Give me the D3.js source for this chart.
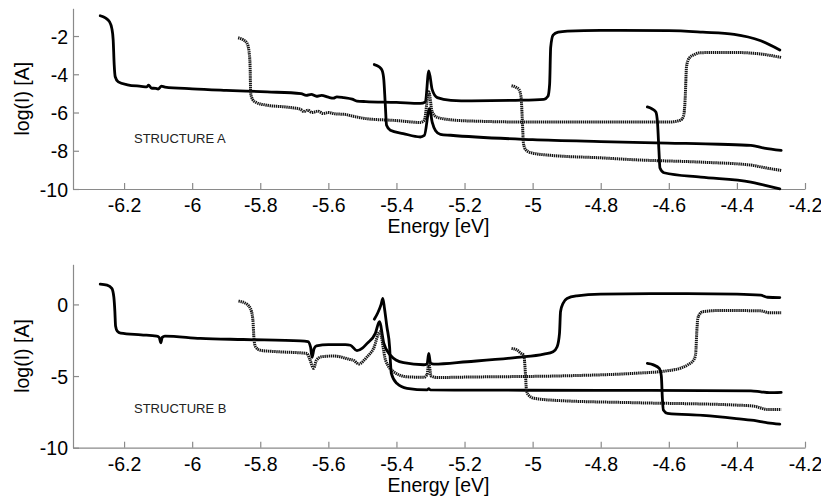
<!DOCTYPE html>
<html>
<head>
<meta charset="utf-8">
<script src="https://cdn.jsdelivr.net/npm/d3@7"></script>
<style>
  html, body { margin: 0; padding: 0; background: #fff; }
  svg { display: block; }
  text { font-family: "Liberation Sans", Arial, Helvetica, sans-serif; fill: #000; }
</style>
</head>
<body>
<svg id="chart" width="821" height="502"></svg>
<script>
// ---------- data ----------
const xTicks = [-6.2, -6, -5.8, -5.6, -5.4, -5.2, -5, -4.8, -4.6, -4.4, -4.2];
const yTicksA = [-10, -8, -6, -4, -2];
const yTicksB = [-10, -5, 0];
const xLabel = "Energy [eV]";
const yLabel = "log(I) [A]";
const panelLabels = ["STRUCTURE A", "STRUCTURE B"];

// Structure A curves  [energy, log(I)]
const A1 = [[-6.270,-0.94],[-6.255,-1.05],[-6.243,-1.25],[-6.236,-1.6],[-6.232,-2.2],[-6.229,-3.5],[-6.226,-4.13],[-6.217,-4.40],[-6.19,-4.55],[-6.15,-4.63],[-6.133,-4.66],[-6.128,-4.57],[-6.12,-4.72],[-6.107,-4.74],[-6.10,-4.77],[-6.09,-4.62],[-6.08,-4.67],[-6.0,-4.76],[-5.9,-4.84],[-5.78,-4.92],[-5.68,-5.01],[-5.665,-5.1],[-5.65,-5.05],[-5.635,-5.15],[-5.62,-5.1],[-5.60,-5.2],[-5.585,-5.25],[-5.575,-5.18],[-5.555,-5.22],[-5.53,-5.3],[-5.516,-5.4],[-5.49,-5.43],[-5.40,-5.47],[-5.33,-5.52],[-5.315,-5.45],[-5.305,-3.82],[-5.295,-4.8],[-5.28,-5.22],[-5.24,-5.36],[-5.18,-5.39],[-5.05,-5.36],[-4.967,-5.31],[-4.955,-5.15],[-4.950,-4.5],[-4.947,-2.6],[-4.940,-1.95],[-4.925,-1.8],[-4.898,-1.74],[-4.8,-1.70],[-4.6,-1.72],[-4.5,-1.8],[-4.408,-1.91],[-4.33,-2.25],[-4.274,-2.73]];
const A2 = [[-5.865,-2.09],[-5.85,-2.2],[-5.839,-2.38],[-5.833,-2.8],[-5.830,-3.5],[-5.828,-5.0],[-5.823,-5.3],[-5.815,-5.45],[-5.78,-5.62],[-5.72,-5.72],[-5.682,-5.83],[-5.672,-5.95],[-5.66,-5.88],[-5.648,-6.0],[-5.63,-5.93],[-5.615,-6.05],[-5.60,-6.0],[-5.58,-6.07],[-5.55,-6.1],[-5.526,-6.2],[-5.49,-6.32],[-5.40,-6.42],[-5.33,-6.52],[-5.318,-6.4],[-5.305,-4.92],[-5.295,-5.97],[-5.28,-6.25],[-5.24,-6.38],[-5.19,-6.44],[-5.0,-6.5],[-4.6,-6.5],[-4.565,-6.4],[-4.557,-6.2],[-4.552,-5.3],[-4.548,-3.6],[-4.540,-3.15],[-4.525,-2.97],[-4.506,-2.87],[-4.408,-2.86],[-4.33,-2.94],[-4.27,-3.12]];
const A3 = [[-5.465,-3.49],[-5.45,-3.62],[-5.442,-3.8],[-5.437,-4.3],[-5.433,-5.5],[-5.429,-6.67],[-5.418,-6.93],[-5.38,-7.1],[-5.33,-7.28],[-5.318,-7.2],[-5.303,-5.8],[-5.295,-6.5],[-5.285,-6.95],[-5.271,-7.14],[-5.241,-7.19],[-5.0,-7.42],[-4.8,-7.52],[-4.604,-7.6],[-4.45,-7.66],[-4.359,-7.72],[-4.32,-7.86],[-4.27,-7.98]];
const A4 = [[-5.062,-4.6],[-5.05,-4.67],[-5.04,-4.8],[-5.034,-5.18],[-5.030,-6.5],[-5.027,-7.6],[-5.02,-7.95],[-5.005,-8.1],[-4.947,-8.24],[-4.8,-8.37],[-4.702,-8.47],[-4.5,-8.6],[-4.359,-8.75],[-4.32,-8.88],[-4.27,-9.03]];
const A5 = [[-4.663,-5.71],[-4.65,-5.8],[-4.638,-5.97],[-4.633,-6.58],[-4.629,-8.0],[-4.626,-8.9],[-4.614,-9.15],[-4.506,-9.38],[-4.359,-9.64],[-4.32,-9.8],[-4.274,-9.99]];

// Structure B curves
const B1 = [[-6.27,1.42],[-6.25,1.35],[-6.236,1.12],[-6.23,0.5],[-6.227,-0.5],[-6.225,-1.5],[-6.22,-1.86],[-6.21,-2.0],[-6.15,-2.12],[-6.104,-2.21],[-6.097,-2.3],[-6.092,-2.68],[-6.088,-2.3],[-6.08,-2.21],[-5.976,-2.37],[-5.85,-2.45],[-5.682,-2.54],[-5.66,-2.6],[-5.652,-3.0],[-5.648,-3.7],[-5.642,-3.1],[-5.635,-2.9],[-5.6,-2.8],[-5.55,-2.8],[-5.535,-2.85],[-5.516,-3.23],[-5.50,-3.05],[-5.486,-2.72],[-5.462,-2.02],[-5.45,-1.21],[-5.437,-2.72],[-5.418,-3.54],[-5.40,-3.9],[-5.379,-4.07],[-5.32,-4.21],[-5.31,-4.15],[-5.305,-3.42],[-5.30,-4.1],[-5.29,-4.17],[-5.192,-4.0],[-5.045,-3.7],[-4.967,-3.47],[-4.94,-3.3],[-4.928,-2.95],[-4.921,-2.0],[-4.918,-0.5],[-4.91,0.1],[-4.899,0.42],[-4.87,0.6],[-4.8,0.72],[-4.6,0.75],[-4.4,0.72],[-4.33,0.65],[-4.31,0.5],[-4.274,0.48]];
const B2 = [[-5.864,0.23],[-5.845,0.1],[-5.829,-0.28],[-5.822,-1.0],[-5.818,-2.5],[-5.814,-2.95],[-5.80,-3.2],[-5.75,-3.3],[-5.663,-3.42],[-5.655,-3.8],[-5.643,-4.46],[-5.635,-3.9],[-5.62,-3.65],[-5.584,-3.6],[-5.535,-3.85],[-5.526,-3.9],[-5.511,-4.16],[-5.486,-3.65],[-5.467,-3.07],[-5.449,-1.91],[-5.432,-3.89],[-5.408,-4.7],[-5.369,-5.05],[-5.32,-5.09],[-5.31,-4.9],[-5.305,-4.12],[-5.298,-5.0],[-5.28,-5.1],[-5.192,-5.07],[-4.9,-4.98],[-4.702,-4.81],[-4.604,-4.63],[-4.56,-4.4],[-4.545,-4.23],[-4.525,-3.8],[-4.521,-3.4],[-4.518,-2.0],[-4.515,-1.0],[-4.51,-0.7],[-4.501,-0.51],[-4.45,-0.42],[-4.33,-0.45],[-4.305,-0.58],[-4.27,-0.58]];
const B3 = [[-5.465,-1.03],[-5.455,-0.6],[-5.445,0.0],[-5.44,0.42],[-5.435,-0.3],[-5.428,-1.56],[-5.42,-3.0],[-5.418,-3.89],[-5.415,-4.81],[-5.399,-5.51],[-5.369,-5.86],[-5.31,-5.97],[-5.305,-5.88],[-5.30,-5.97],[-5.2,-5.98],[-4.8,-6.0],[-4.5,-6.01],[-4.359,-6.03],[-4.33,-6.1],[-4.305,-6.16],[-4.27,-6.14]];
const B4 = [[-5.062,-3.07],[-5.045,-3.2],[-5.035,-3.4],[-5.026,-3.54],[-5.022,-4.5],[-5.018,-6.0],[-5.012,-6.33],[-4.996,-6.55],[-4.93,-6.7],[-4.702,-6.86],[-4.408,-7.02],[-4.35,-7.1],[-4.31,-7.33],[-4.27,-7.33]];
const B5 = [[-4.663,-4.12],[-4.645,-4.22],[-4.628,-4.47],[-4.622,-5.0],[-4.619,-6.5],[-4.616,-7.37],[-4.604,-7.6],[-4.5,-7.75],[-4.408,-7.95],[-4.35,-8.1],[-4.31,-8.26],[-4.274,-8.35]];

const seriesA = [{d: A1, dotted: false}, {d: A2, dotted: true}, {d: A3, dotted: false}, {d: A4, dotted: true}, {d: A5, dotted: false}];
const seriesB = [{d: B1, dotted: false}, {d: B2, dotted: true}, {d: B3, dotted: false}, {d: B4, dotted: true}, {d: B5, dotted: false}];

// ---------- drawing ----------
const svg = d3.select("#chart");
const xDomain = [-6.35, -4.2];
const xRange = [73, 805];
const FS = "19.5px";
const axisColor = "#8a8a8a";

const panels = [
  {series: seriesA, yDomain: [-10, -0.55], yRange: [189, 8.3], yTicks: yTicksA, label: panelLabels[0], labelPos: [134, 142.5]},
  {series: seriesB, yDomain: [-10, 2.8], yRange: [447.7, 264.3], yTicks: yTicksB, label: panelLabels[1], labelPos: [134, 412.5]}
];

const fmt = d => String(+d.toFixed(1));

panels.forEach(p => {
  const x = d3.scaleLinear().domain(xDomain).range(xRange);
  const y = d3.scaleLinear().domain(p.yDomain).range(p.yRange);
  const g = svg.append("g");

  // x axis
  const gx = g.append("g")
    .attr("transform", `translate(0,${p.yRange[0]})`)
    .call(d3.axisBottom(x).tickValues(xTicks).tickFormat(fmt).tickSizeInner(-6).tickSizeOuter(0).tickPadding(9.5));
  // y axis
  const gy = g.append("g")
    .attr("transform", `translate(${xRange[0]},0)`)
    .call(d3.axisLeft(y).tickValues(p.yTicks).tickFormat(fmt).tickSizeInner(-6).tickSizeOuter(0).tickPadding(5));

  [gx, gy].forEach(a => {
    a.select(".domain").attr("stroke", axisColor).attr("stroke-width", 1.2);
    a.selectAll(".tick line").attr("stroke", axisColor).attr("stroke-width", 1.2);
    a.selectAll(".tick text").attr("fill", "#000").style("font-size", FS)
      .style("font-family", '"Liberation Sans", Arial, sans-serif');
  });
  gy.selectAll(".tick text").attr("dy", "0.36em");

  // curves
  const line = d3.line().x(d => x(d[0])).y(d => y(d[1])).curve(d3.curveMonotoneX);
  p.series.forEach(s => {
    g.append("path")
      .datum(s.d)
      .attr("d", line)
      .attr("fill", "none")
      .attr("stroke", s.dotted ? "#161616" : "#000")
      .attr("stroke-width", s.dotted ? 3 : 2.8)
      .attr("stroke-dasharray", s.dotted ? "1.4,0.7" : null)
      .attr("stroke-linejoin", "round")
      .attr("stroke-linecap", s.dotted ? "butt" : "round");
  });

  // x label
  g.append("text")
    .attr("x", (xRange[0] + xRange[1]) / 2 - 0.5)
    .attr("y", p.yRange[0] + 44)
    .attr("text-anchor", "middle")
    .style("font-size", FS)
    .text(xLabel);

  // y label
  const yc = (p.yRange[0] + p.yRange[1]) / 2;
  g.append("text")
    .attr("transform", `translate(29,${yc}) rotate(-90)`)
    .attr("text-anchor", "middle")
    .style("font-size", FS)
    .text(yLabel);

  // panel label
  g.append("text")
    .attr("x", p.labelPos[0])
    .attr("y", p.labelPos[1])
    .style("font-size", "13px")
    .style("fill", "#222")
    .text(p.label);
});
</script>
</body>
</html>
